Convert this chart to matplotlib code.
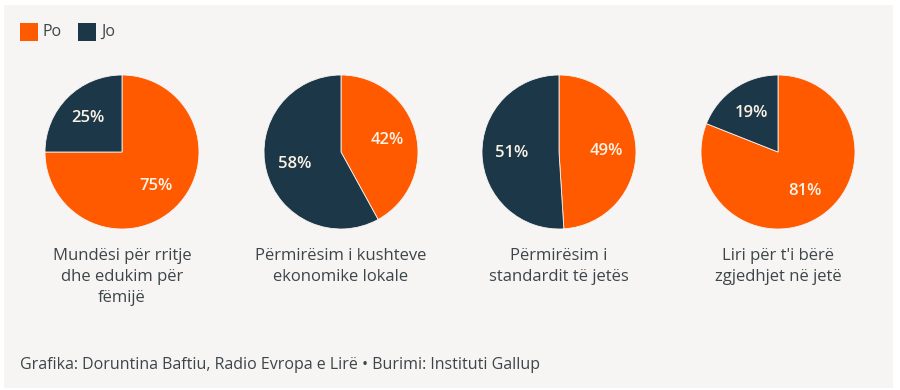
import matplotlib
matplotlib.use("Agg")
import matplotlib.pyplot as plt
from matplotlib.patches import Rectangle

plt.rcParams['font.family'] = ['Open Sans', 'DejaVu Sans']

categories = ["Mundësi për rritje\ndhe edukim për\nfëmijë",
              "Përmirësim i kushteve\nekonomike lokale",
              "Përmirësim i\nstandardit të jetës",
              "Liri për t'i bërë\nzgjedhjet në jetë"]
po = [75, 42, 49, 81]
jo = [25, 58, 51, 19]
series_names = ["Po", "Jo"]
colors = ["#ff5a00", "#1b3748"]
footer = "Grafika: Doruntina Baftiu, Radio Evropa e Lirë • Burimi: Instituti Gallup"

W, H = 900, 390
fig = plt.figure(figsize=(W/100, H/100), dpi=100)
fig.patch.set_facecolor("white")
bg = Rectangle((4/W, 2/H), 889/W, 383/H, transform=fig.transFigure,
               facecolor="#f6f5f4", edgecolor="none", zorder=-5)
fig.patches.append(bg)

centers_x = [122, 341, 559, 778]
cy = 152
r = 77
text_col = "#3d4549"

for i, cx in enumerate(centers_x):
    ax = fig.add_axes([(cx - r)/W, 1 - (cy + r)/H, 2*r/W, 2*r/H], zorder=2)
    ax.set_facecolor("none")
    vals = [po[i], jo[i]]
    wedges, texts = ax.pie(vals, colors=colors, startangle=90, counterclock=False,
                           radius=1, wedgeprops=dict(linewidth=0.6, edgecolor="#f6f5f4"),
                           labels=[f"{v}%" for v in vals], labeldistance=0.62,
                           textprops=dict(color="#fbf3e6", fontsize=12, fontweight="semibold",
                                          ha="center", va="center"))
    ax.set_xlim(-1, 1)
    ax.set_ylim(-1, 1)
    ax.set_aspect("auto")
    ax.axis("off")
    fig.text(cx/W, 1 - 248/H, categories[i], ha="center", va="top",
             fontsize=12, color=text_col, linespacing=1.4)

# legend
for j, (name, col) in enumerate(zip(series_names, colors)):
    x0 = [20, 78][j]
    fig.patches.append(Rectangle((x0/W, 1 - 41/H), 18/W, 18/H, transform=fig.transFigure,
                                 facecolor=col, edgecolor="none", zorder=1))
    fig.text((x0 + 23)/W, 1 - 32/H, name, ha="left", va="center", fontsize=11.5, color=text_col)

fig.text(20/W, 1 - 365/H, footer, ha="left", va="center", fontsize=11.5, color=text_col)

fig.savefig("out.png", dpi=100, facecolor=fig.get_facecolor())
